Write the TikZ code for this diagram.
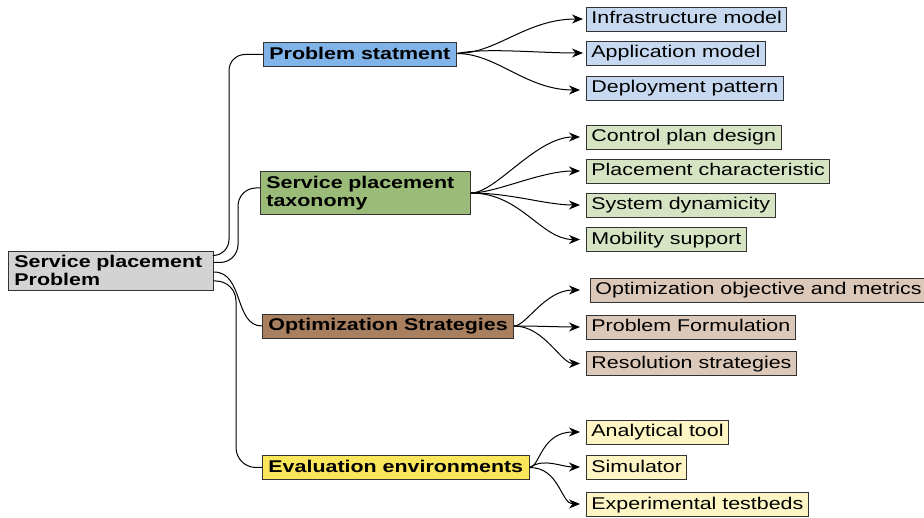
\documentclass[tikz,border=0pt]{standalone}
\usepackage{fontspec}
\setmainfont{Liberation Sans}[FakeStretch=1.26]
\usetikzlibrary{arrows.meta,calc}

\definecolor{rootgray}{HTML}{D3D3D3}
\definecolor{psblue}{HTML}{80B3E8}
\definecolor{psleaf}{HTML}{C6D9F0}
\definecolor{taxgreen}{HTML}{9BBB78}
\definecolor{taxleaf}{HTML}{D7E4C4}
\definecolor{optbrown}{HTML}{A88060}
\definecolor{optleaf}{HTML}{DCC8B8}
\definecolor{evalyellow}{HTML}{FAE65A}
\definecolor{evalleaf}{HTML}{FDF5C3}

\begin{document}
\begin{tikzpicture}[x=1pt,y=-1pt,
  box/.style={draw=black!80,line width=0.9pt,anchor=west,inner ysep=4pt,
    font=\fontsize{17}{18.5}\selectfont},
  oneline/.style={text height=13pt,text depth=3pt},
  root/.style={box,inner xsep=6pt,align=left,font=\fontsize{17}{18.5}\selectfont\bfseries},
  topic/.style={box,inner xsep=6pt,font=\fontsize{17}{18.5}\selectfont\bfseries},
  leaf/.style={box,oneline,inner xsep=5pt},
  link/.style={line width=1pt},
  fan/.style={link,-{Stealth[length=11pt,width=9pt,inset=3.5pt]},shorten >=6pt}]
\useasboundingbox (0,0) rectangle (924,518);

\node[root,fill=rootgray,text width=193pt] (spp) at (8,270.5) {Service placement\\Problem};

\node[topic,oneline,fill=psblue] (ps) at (263,54.5) {Problem statment};
\node[topic,align=left,fill=taxgreen,text width=198pt] (tax) at (260,193) {Service placement\\taxonomy};
\node[topic,oneline,fill=optbrown] (opt) at (262,326) {Optimization Strategies};
\node[topic,oneline,fill=evalyellow] (eval) at (262,467.5) {Evaluation environments};

\foreach \n/\y/\t in {infra/19/Infrastructure model,app/53/Application model,dep/88/Deployment pattern}
  \node[leaf,fill=psleaf] (\n) at (586,\y) {\t};
\foreach \n/\y/\t in {ctrl/137/Control plan design,plac/171/Placement characteristic,
    sysdyn/205/System dynamicity,mob/239.5/Mobility support}
  \node[leaf,fill=taxleaf] (\n) at (586,\y) {\t};
\node[leaf,fill=optleaf] (obj) at (590,290) {Optimization objective and metrics};
\foreach \n/\y/\t in {form/327/Problem Formulation,resol/363.5/Resolution strategies}
  \node[leaf,fill=optleaf] (\n) at (586,\y) {\t};
\foreach \n/\y/\t in {anal/432/Analytical tool,simu/467/Simulator,testbed/504/Experimental testbeds}
  \node[leaf,fill=evalleaf] (\n) at (586,\y) {\t};

\draw[link,rounded corners=16pt] ([yshift=15pt]spp.east) -| ($(ps.west)+(-34,0)$) -- (ps.west);
\draw[link,rounded corners=18pt] ([yshift=8pt]spp.east) -| ($(tax.west)+(-22,-5)$) -- ([yshift=5pt]tax.west);
\draw[link] ([yshift=-1.5pt]spp.east) .. controls +(30,0) and +(-28,0) .. (opt.west);
\draw[link,rounded corners=20pt] ([yshift=-10.5pt]spp.east) -| ($(eval.west)+(-26,0)$) -- (eval.west);

\draw[fan,shorten >=3pt] ([yshift=1pt]ps.east) .. controls +(40,0) and +(-60,0) .. (infra.west);
\draw[fan,shorten >=3pt] ([yshift=1pt]ps.east) .. controls +(30,-6) and +(-50,0) .. (app.west);
\draw[fan] ([yshift=1pt]ps.east) .. controls +(40,0) and +(-60,0) .. ([yshift=-2pt]dep.west);

\draw[fan] (tax.east) .. controls +(25,0) and +(-50,0) .. (ctrl.west);
\draw[fan] (tax.east) .. controls +(25,0) and +(-45,0) .. (plac.west);
\draw[fan] (tax.east) .. controls +(40,0) and +(-40,0) .. (sysdyn.west);
\draw[fan] (tax.east) .. controls +(50,0) and +(-45,0) .. (mob.west);

\draw[fan,shorten >=10pt] (opt.east) .. controls +(12,0) and +(-45,0) .. (obj.west);
\draw[fan] (opt.east) .. controls +(25,0) and +(-25,0) .. (form.west);
\draw[fan] (opt.east) .. controls +(30,0) and +(-25,0) .. (resol.west);

\draw[fan] (eval.east) .. controls +(10,0) and +(-45,0) .. (anal.west);
\draw[fan] (eval.east) .. controls +(15,-10) and +(-25,0) .. (simu.west);
\draw[fan] (eval.east) .. controls +(30,0) and +(-25,0) .. (testbed.west);
\end{tikzpicture}
\end{document}
